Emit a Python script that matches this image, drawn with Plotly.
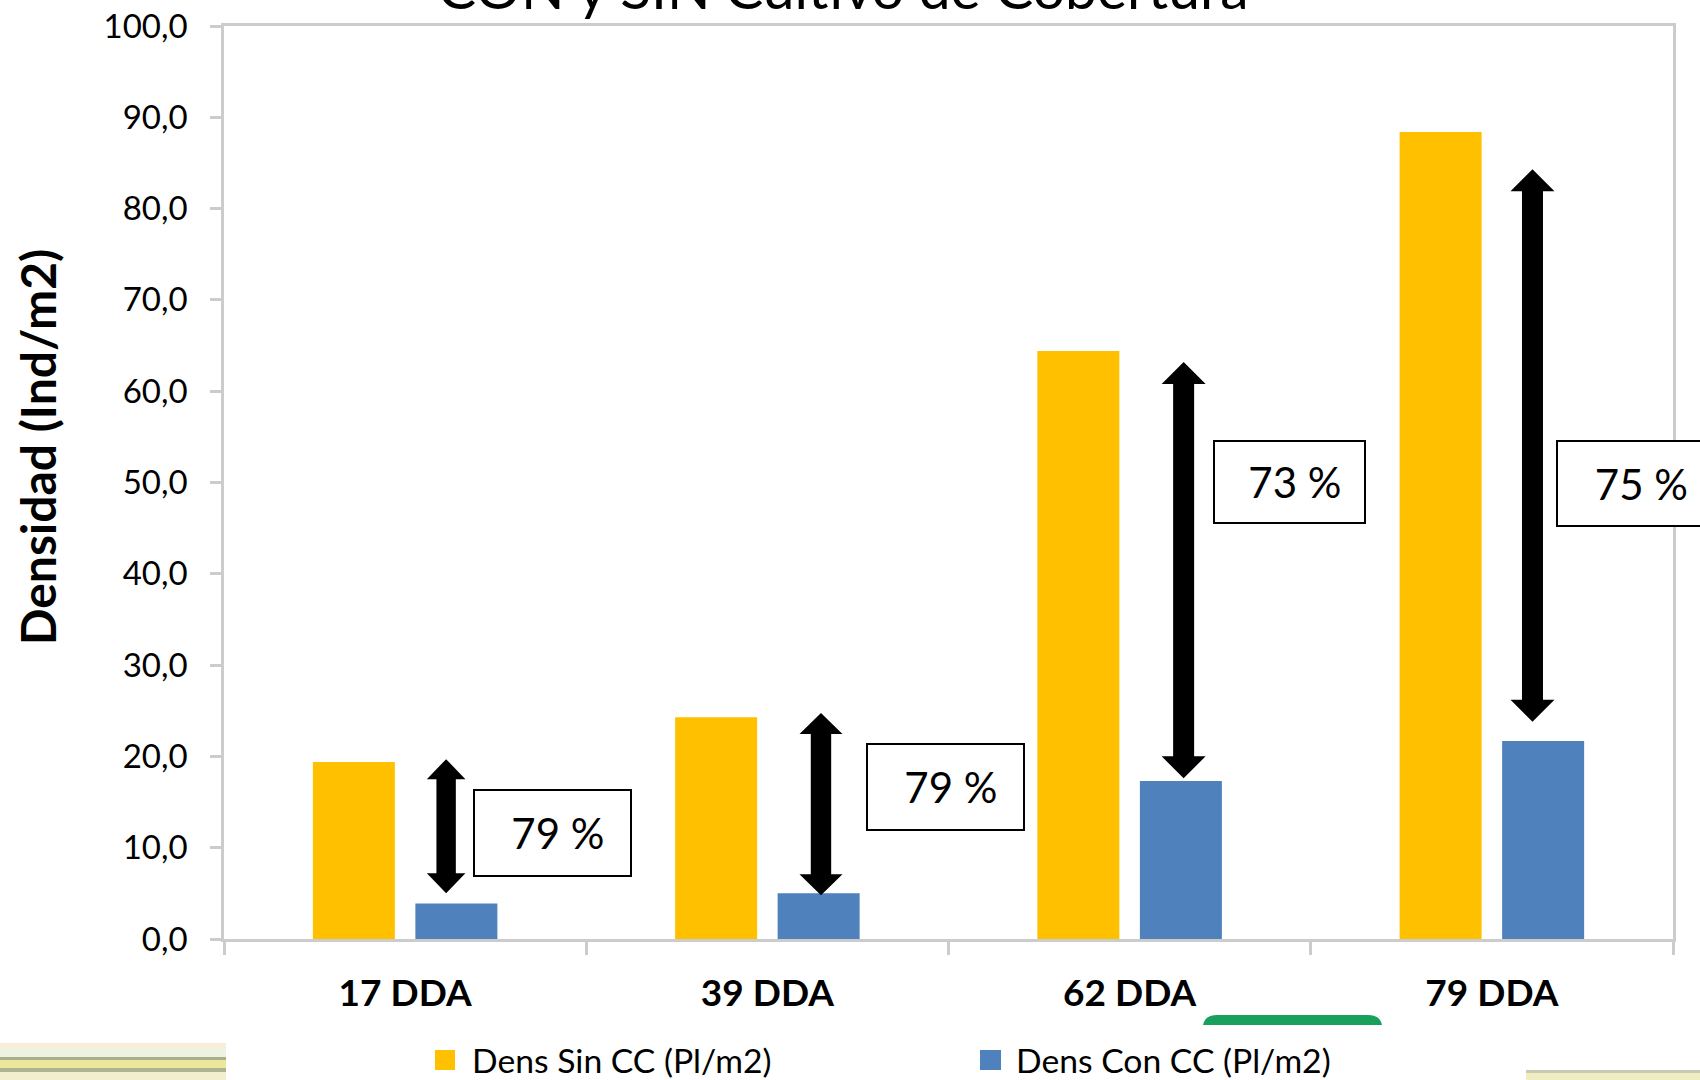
import plotly.graph_objects as go

# ---------------- data ----------------
categories = ["17 DDA", "39 DDA", "62 DDA", "79 DDA"]
series_names = ["Dens Sin CC (Pl/m2)", "Dens Con CC (Pl/m2)"]
sin_cc = [19.4, 24.3, 64.4, 88.4]
con_cc = [3.9, 5.0, 17.3, 21.7]
reduction_labels = ["79 %", "79 %", "73 %", "75 %"]
arrow_top = [19.7, 24.75, 63.2, 84.3]
arrow_bottom = [5.0, 4.8, 17.6, 23.8]
box_y = [11.6, 16.65, 50.05, 49.9]
y_ticks = [0, 10, 20, 30, 40, 50, 60, 70, 80, 90, 100]

# ---------------- layout geometry (pixels) ----------------
W, H = 1700, 1080
L_M, R_M, T_M, B_M = 224, 27, 26, 141
PW = W - L_M - R_M
PH = H - T_M - B_M


def px_x(p):
    return (p - L_M) / PW


def px_y(p):
    return (H - B_M - p) / PH


YELLOW = "#FFC000"
BLUE = "#4F81BD"
GREY = "#cccccc"
FONT = "Lato"

fig = go.Figure()
fig.add_trace(go.Bar(x=categories, y=sin_cc, name=series_names[0],
                     marker=dict(color=YELLOW, line=dict(width=0)), showlegend=False))
fig.add_trace(go.Bar(x=categories, y=con_cc, name=series_names[1],
                     marker=dict(color=BLUE, line=dict(width=0)), showlegend=False))

shapes = []
annotations = []

# double-headed arrows
arrow_dx = [41, 53.6, 54, 40.6]
shaft_hw = [9.7, 10.2, 10.5, 10.5]
head_hw = [19.3, 21.5, 22, 22]
head_len = [20, 21, 22, 22]
for i in range(len(categories)):
    t, b, dx = arrow_top[i], arrow_bottom[i], arrow_dx[i]
    w, h = shaft_hw[i], head_hw[i]
    Lh = head_len[i] / (PH / 100.0)
    path = (f"M {dx-w},{t-Lh} L {dx-h},{t-Lh} L {dx},{t} L {dx+h},{t-Lh} L {dx+w},{t-Lh} "
            f"L {dx+w},{b+Lh} L {dx+h},{b+Lh} L {dx},{b} L {dx-h},{b+Lh} L {dx-w},{b+Lh} Z")
    shapes.append(dict(type="path", xref="x", yref="y", xsizemode="pixel", xanchor=i,
                       path=path, fillcolor="black", line=dict(width=0), layer="above"))

# percentage boxes
box_dx = [147.4, 178.1, 159.9, 144]
box_w = [159, 159, 153, 160]
box_h = [88, 88, 84, 87]
for i in range(len(categories)):
    annotations.append(dict(
        x=i, xref="x", xshift=box_dx[i], y=box_y[i], yref="y",
        text="\u00a0" + reduction_labels[i], showarrow=False,
        xanchor="center", yanchor="middle",
        width=box_w[i] - 4, height=box_h[i] - 4,
        bordercolor="black", borderwidth=2, borderpad=0, bgcolor="white",
        align="center", valign="middle",
        font=dict(family=FONT, size=42, color="black")))

# title (partially out of page at the top)
annotations.append(dict(
    x=px_x(843), y=px_y(23), xref="paper", yref="paper",
    text="CON y SIN Cultivo de Cobertura", showarrow=False,
    xanchor="center", yanchor="bottom",
    font=dict(family=FONT, size=57, color="black")))

# y-axis title
annotations.append(dict(
    x=px_x(37), y=px_y(447), xref="paper", yref="paper",
    text="Densidad (Ind/m2)", showarrow=False, textangle=-90,
    xanchor="center", yanchor="middle",
    font=dict(family=FONT, size=48, color="black", weight="bold")))

# custom legend
legend_items = [(435, 455, 470, YELLOW, series_names[0]),
                (980, 1001, 1014, BLUE, series_names[1])]
for x0, x1, tx, col, name in legend_items:
    shapes.append(dict(type="rect", xref="paper", yref="paper",
                       x0=px_x(x0), x1=px_x(x1), y0=px_y(1070), y1=px_y(1050),
                       fillcolor=col, line=dict(width=0)))
    annotations.append(dict(x=px_x(tx), y=px_y(1060), xref="paper", yref="paper",
                            text=name, showarrow=False, xanchor="left", yanchor="middle",
                            font=dict(family=FONT, size=33.7, color="black")))

# decorative background fragments
stripes_left = [(1043, 1048, "#f7eed8"), (1048, 1057, "#eef2e0"), (1057, 1060, "#a9ae8c"),
                (1060, 1068, "#ebe79c"), (1068, 1072, "#b0b48e"), (1072, 1080, "#f2efcf")]
for y0, y1, col in stripes_left:
    shapes.append(dict(type="rect", xref="paper", yref="paper",
                       x0=px_x(0), x1=px_x(226), y0=px_y(y1), y1=px_y(y0),
                       fillcolor=col, line=dict(width=0), layer="below"))
stripes_right = [(1070, 1073, "#c9cab6"), (1073, 1080, "#f0edc0")]
for y0, y1, col in stripes_right:
    shapes.append(dict(type="rect", xref="paper", yref="paper",
                       x0=px_x(1526), x1=px_x(1700), y0=px_y(y1), y1=px_y(y0),
                       fillcolor=col, line=dict(width=0), layer="below"))
# green rounded tab
gx0, gx1, gy0, gy1, r = 1203, 1382, 1015, 1025, 14
gpath = (f"M {px_x(gx0)},{px_y(gy1)} Q {px_x(gx0+2)},{px_y(gy0)} {px_x(gx0+r)},{px_y(gy0)} "
         f"L {px_x(gx1-r)},{px_y(gy0)} Q {px_x(gx1-2)},{px_y(gy0)} {px_x(gx1)},{px_y(gy1)} Z")
shapes.append(dict(type="path", xref="paper", yref="paper", path=gpath,
                   fillcolor="#18a05c", line=dict(width=0), layer="below"))

fig.update_layout(
    width=W, height=H, autosize=False,
    margin=dict(l=L_M, r=R_M, t=T_M, b=B_M, pad=0, autoexpand=False),
    paper_bgcolor="white", plot_bgcolor="white",
    barmode="group", bargap=0.434, bargroupgap=0.2,
    separators=",.",
    showlegend=False,
    shapes=shapes, annotations=annotations,
    font=dict(family=FONT, color="black"),
)
fig.update_xaxes(type="category", range=[-0.5, len(categories) - 0.5], autorange=False,
                 tickson="boundaries", ticks="outside", ticklen=13,
                 tickwidth=2.5, tickcolor=GREY, showline=True, linecolor=GREY, linewidth=2.5,
                 mirror=True, showgrid=False, automargin=False,
                 tickfont=dict(family=FONT, size=37, color="black", weight="bold"),
                 ticklabelstandoff=20)
fig.update_yaxes(range=[0, 100], autorange=False, tickvals=y_ticks, tickformat=".1f",
                 ticks="outside", automargin=False,
                 ticklen=11, tickwidth=2.5, tickcolor=GREY, showline=True, linecolor=GREY,
                 linewidth=2.5, mirror=True, showgrid=False, zeroline=False,
                 tickfont=dict(family=FONT, size=33, color="black"),
                 ticklabelstandoff=16)

fig.write_html("out.html", config={"displayModeBar": False},
               post_script="document.body.style.margin='0';document.body.style.overflow='hidden';")
